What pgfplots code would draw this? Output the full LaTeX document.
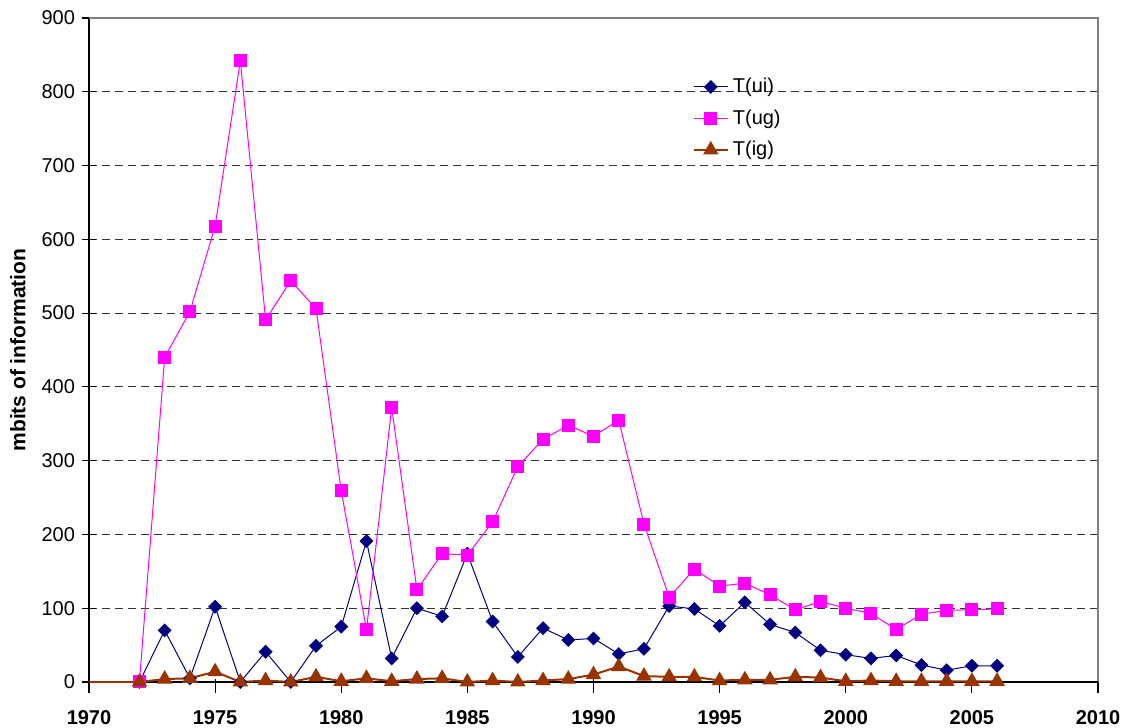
\documentclass[border=0pt]{standalone}
\usepackage{fontspec}
\setmainfont{Liberation Sans}
\usepackage{pgfplots}
\pgfplotsset{compat=1.18}
\definecolor{cUI}{HTML}{000080}
\definecolor{cUG}{HTML}{FF00FF}
\definecolor{cIG}{HTML}{993300}
\begin{document}
\begin{tikzpicture}
\useasboundingbox (-44.5pt,-23pt) rectangle (518pt,341pt);
\begin{axis}[
  clip=false,
  scale only axis, width=504.5pt, height=332pt,
  xmin=1970, xmax=2010, ymin=0, ymax=900,
  xtick={1970,1975,...,2010}, ytick={0,100,...,900},
  axis x line=bottom, axis y line=left,
  axis line style={-,black,line width=0.6pt},
  x axis line style={draw=none},
  tick align=center, major tick length=7pt,
  tick style={black, line width=0.6pt},
  xtick style={yshift=-2pt},
  ymajorgrids,
  grid style={black!80, dash pattern=on 4pt off 2.5pt, line width=0.5pt},
  /pgf/number format/assume math mode=true,
  /pgf/number format/1000 sep={},
  yticklabel style={font=\fontsize{10}{12}\selectfont},
  xticklabel style={font=\fontsize{10}{12}\selectfont\bfseries, yshift=-7pt},
  ylabel={\textbf{mbits of information}},
  ylabel style={at={(axis description cs:-0.0704,0.5)}, anchor=center, font=\fontsize{10.5}{12}\selectfont},
  legend style={draw=none, fill=none, at={(axis description cs:0.592,0.922)}, anchor=north west,
    font=\fontsize{10}{12}\selectfont, row sep=3pt},
  legend cell align=left,
]
\draw[gray, line width=0.6pt] (rel axis cs:0,1) -- (rel axis cs:1,1) -- (rel axis cs:1,0);
\draw[black, line width=0.6pt] (rel axis cs:0,0) -- (rel axis cs:1,0);
\addplot[cUI, line width=0.5pt, mark=square*, mark size=2.2pt, mark options={solid, fill=cUI, rotate=45}] coordinates {
(1972,0) (1973,70) (1974,5) (1975,102) (1976,0) (1977,41) (1978,0) (1979,49) (1980,75) (1981,191)
(1982,32) (1983,100) (1984,89) (1985,174) (1986,82) (1987,34) (1988,73) (1989,57) (1990,59) (1991,38)
(1992,45) (1993,103) (1994,99) (1995,76) (1996,108) (1997,78) (1998,67) (1999,43) (2000,37) (2001,32)
(2002,36) (2003,23) (2004,16) (2005,22) (2006,22)
};
\addlegendentry{T(ui)}
\addplot[cUG, line width=0.5pt, mark=square*, mark size=3pt, mark options={solid, fill=cUG}] coordinates {
(1972,0) (1973,440) (1974,502) (1975,618) (1976,842) (1977,491) (1978,544) (1979,506) (1980,259) (1981,71)
(1982,372) (1983,125) (1984,174) (1985,172) (1986,217) (1987,292) (1988,329) (1989,348) (1990,333) (1991,355)
(1992,214) (1993,115) (1994,153) (1995,130) (1996,134) (1997,118) (1998,98) (1999,109) (2000,100) (2001,93)
(2002,71) (2003,92) (2004,97) (2005,98) (2006,99)
};
\addlegendentry{T(ug)}
\addplot[cIG, line width=1pt, mark=triangle*, mark size=3.5pt, mark options={solid, fill=cIG}] coordinates {
(1972,0) (1973,4) (1974,5) (1975,14) (1976,0) (1977,2) (1978,0) (1979,7) (1980,1) (1981,5)
(1982,1) (1983,4) (1984,5) (1985,0) (1986,2) (1987,0) (1988,2) (1989,4) (1990,10) (1991,21)
(1992,8) (1993,7) (1994,7) (1995,2) (1996,3) (1997,3) (1998,7) (1999,6) (2000,1) (2001,2)
(2002,1) (2003,1) (2004,1) (2005,1) (2006,1)
};
\addlegendentry{T(ig)}
\addplot[cIG, line width=1.2pt, forget plot] coordinates {(1970,0) (1971,0) (1972,0)};
\end{axis}
\end{tikzpicture}
\end{document}
